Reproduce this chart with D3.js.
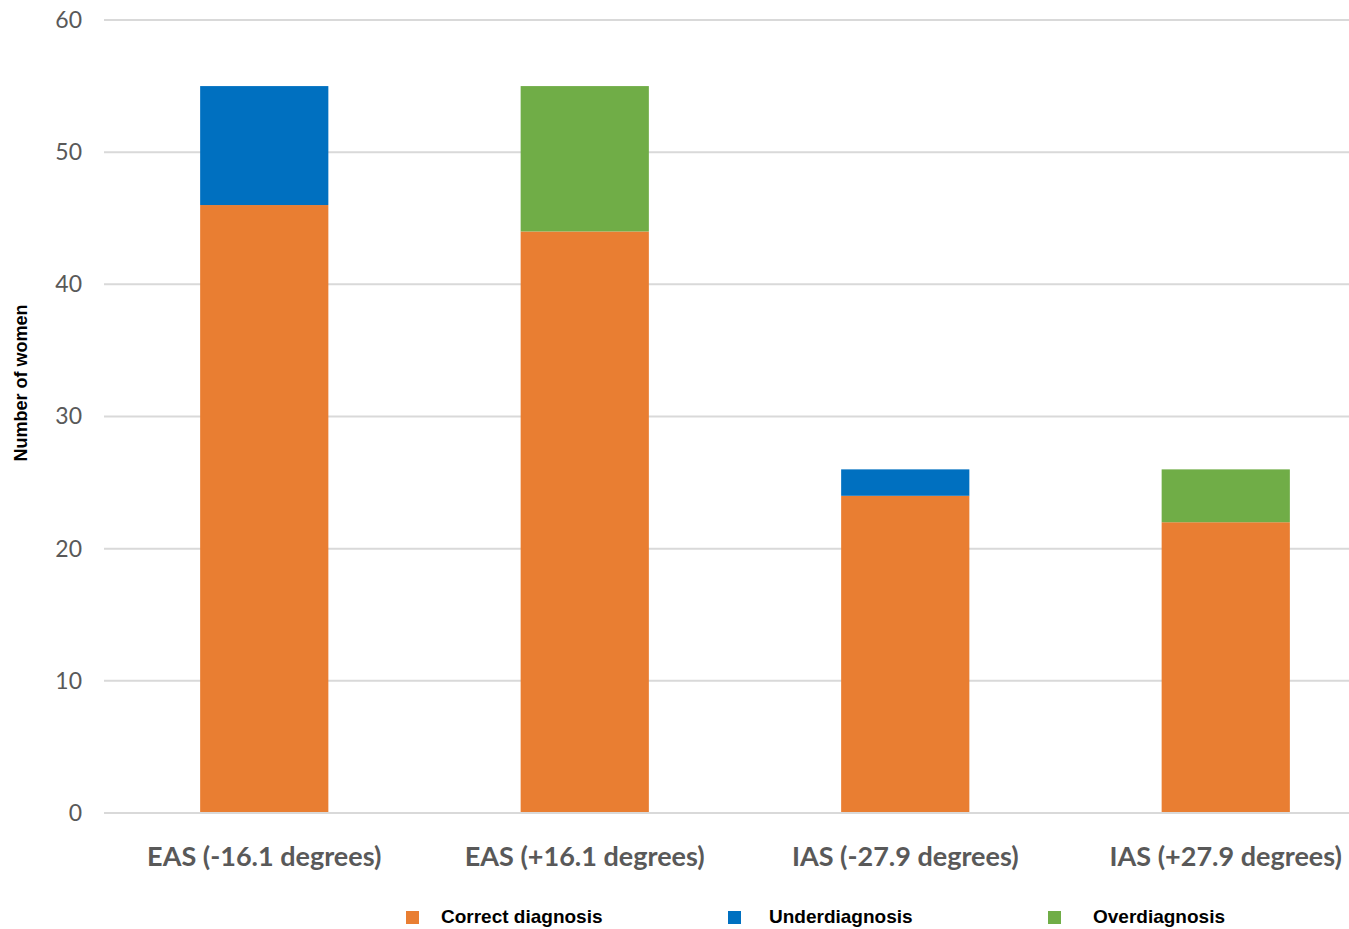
<!DOCTYPE html>
<html>
<head>
<meta charset="utf-8">
<script src="https://cdn.jsdelivr.net/npm/d3@7"></script>
<style>
  html, body { margin: 0; padding: 0; background: #fff; }
  svg { display: block; }
</style>
</head>
<body>
<svg id="chart" width="1349" height="929"></svg>
<script>
// Categories and stacked series (number of women)
const categories = ["EAS (-16.1 degrees)", "EAS (+16.1 degrees)", "IAS (-27.9 degrees)", "IAS (+27.9 degrees)"];
const correctDiagnosis = [46, 44, 24, 22];
const underdiagnosis   = [9, 0, 2, 0];
const overdiagnosis    = [0, 11, 0, 4];
const seriesNames  = ["Correct diagnosis", "Underdiagnosis", "Overdiagnosis"];
const seriesColors = ["#e97e32", "#0070c0", "#70ad47"];
const yTicks = [0, 10, 20, 30, 40, 50, 60];

const rows = categories.map((c, i) => ({
  cat: c,
  "Correct diagnosis": correctDiagnosis[i],
  "Underdiagnosis": underdiagnosis[i],
  "Overdiagnosis": overdiagnosis[i]
}));

const svg = d3.select("#chart");
const x = d3.scaleBand().domain(categories).range([104, 1386]).paddingInner(0.6).paddingOuter(0.3);
const y = d3.scaleLinear().domain([0, 60]).range([813, 20]);
const color = d3.scaleOrdinal().domain(seriesNames).range(seriesColors);

// Horizontal gridlines
svg.append("g")
  .selectAll("line")
  .data(yTicks)
  .join("line")
  .attr("x1", 104).attr("x2", 1386)
  .attr("y1", d => y(d)).attr("y2", d => y(d))
  .attr("stroke", "#d9d9d9").attr("stroke-width", 2);

// Y axis labels
const yAxis = d3.axisLeft(y).tickValues(yTicks).tickSize(0).tickPadding(0);
svg.append("g")
  .attr("transform", "translate(82,0)")
  .call(yAxis)
  .call(g => g.select(".domain").remove())
  .selectAll("text")
  .attr("font-family", "Lato, 'Open Sans', sans-serif")
  .attr("font-size", 23)
  .attr("fill", "#595959");

// Stacked bars
const stack = d3.stack().keys(seriesNames)(rows);
svg.append("g")
  .selectAll("g")
  .data(stack)
  .join("g")
  .attr("fill", d => color(d.key))
  .selectAll("rect")
  .data(d => d.filter(p => p[1] - p[0] > 0))
  .join("rect")
  .attr("x", d => x(d.data.cat))
  .attr("width", x.bandwidth())
  .attr("y", d => y(d[1]))
  .attr("height", d => y(d[0]) - y(d[1]));

// Baseline
svg.append("line")
  .attr("x1", 104).attr("x2", 1386)
  .attr("y1", y(0)).attr("y2", y(0))
  .attr("stroke", "#d9d9d9").attr("stroke-width", 2);

// X axis category labels
const xAxis = d3.axisBottom(x).tickSize(0).tickPadding(0);
svg.append("g")
  .attr("transform", "translate(0,866)")
  .call(xAxis)
  .call(g => g.select(".domain").remove())
  .selectAll("text")
  .attr("dy", 0)
  .attr("font-family", "Lato, 'Open Sans', sans-serif")
  .attr("font-weight", "bold")
  .attr("font-size", 27)
  .attr("fill", "#595959");

// Y axis title
svg.append("text")
  .attr("transform", "translate(27,383) rotate(-90)")
  .attr("text-anchor", "middle")
  .attr("font-family", "'Liberation Sans', Arial, sans-serif")
  .attr("font-weight", "bold")
  .attr("font-size", 18)
  .attr("fill", "#000")
  .text("Number of women");

// Legend
const legendX = [406, 728, 1048];
const legendTextX = [441, 769, 1093];
const legend = svg.append("g")
  .selectAll("g")
  .data(seriesNames)
  .join("g");
legend.append("rect")
  .attr("x", (d, i) => legendX[i])
  .attr("y", 911)
  .attr("width", 13).attr("height", 13)
  .attr("fill", d => color(d));
legend.append("text")
  .attr("x", (d, i) => legendTextX[i])
  .attr("y", 923)
  .attr("font-family", "'Liberation Sans', Arial, sans-serif")
  .attr("font-weight", "bold")
  .attr("font-size", 19)
  .attr("fill", "#000")
  .text(d => d);
</script>
</body>
</html>
